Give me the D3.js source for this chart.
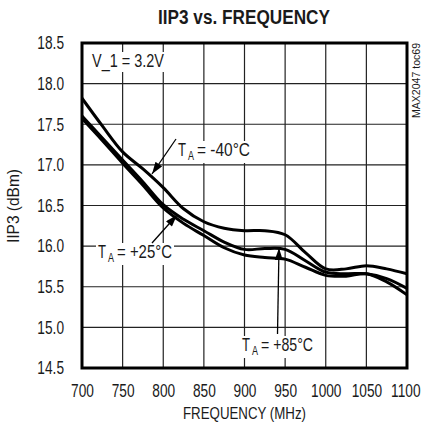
<!DOCTYPE html>
<html><head><meta charset="utf-8">
<script src="https://cdn.jsdelivr.net/npm/d3@7"></script>
<style>
body{margin:0;background:#fff;}
text{font-family:"Liberation Sans Narrow","Arial Narrow","Liberation Sans",sans-serif;fill:#1a1a1a;}
</style></head><body>
<svg id="c" width="422" height="429"></svg>
<script>
const freqs = [700,725,750,775,800,825,850,875,900,925,950,975,1000,1025,1050,1075,1100];
const tMinus40 = [17.82,17.48,17.16,16.95,16.72,16.46,16.30,16.22,16.19,16.19,16.14,15.92,15.72,15.72,15.76,15.72,15.66];
const tPlus25  = [17.60,17.33,17.06,16.79,16.51,16.33,16.19,16.05,15.96,15.97,15.96,15.82,15.68,15.66,15.66,15.60,15.48];
const tPlus85  = [17.57,17.30,17.02,16.75,16.47,16.28,16.13,15.98,15.89,15.86,15.84,15.74,15.64,15.63,15.66,15.56,15.40];
const xTicks = [700,750,800,850,900,950,1000,1050,1100];
const yTicks = [14.5,15.0,15.5,16.0,16.5,17.0,17.5,18.0,18.5];

const svg = d3.select("#c");
const L=82, R=407, T=43, B=368;
const x = d3.scaleLinear().domain([700,1100]).range([L,R]);
const y = d3.scaleLinear().domain([14.5,18.5]).range([B,T]);
const SQ = 0.76;
function squeeze(sel, w){
  sel.each(function(){
    const n=this; const nat=n.getComputedTextLength();
    n.setAttribute("textLength", w!=null ? w : nat*SQ);
    n.setAttribute("lengthAdjust","spacingAndGlyphs");
  });
}

const g = svg.append("g");
g.selectAll(".vx").data(xTicks).enter().append("line")
  .attr("x1",d=>x(d)).attr("x2",d=>x(d)).attr("y1",T).attr("y2",B)
  .attr("stroke","#222").attr("stroke-width",1.2);
g.selectAll(".hy").data(yTicks).enter().append("line")
  .attr("y1",d=>y(d)).attr("y2",d=>y(d)).attr("x1",L).attr("x2",R)
  .attr("stroke","#222").attr("stroke-width",1.2);

const xAxis = svg.append("g").attr("transform",`translate(0,${B})`)
  .call(d3.axisBottom(x).tickValues(xTicks).tickSize(0).tickPadding(16).tickFormat(d3.format("d")));
xAxis.select(".domain").remove();
xAxis.selectAll("text").attr("font-size",18).attr("font-family",null).attr("fill","#1a1a1a");
squeeze(xAxis.selectAll("text"));
// keep the last label inside the window edge
xAxis.selectAll("text").filter(d=>d===1100).attr("text-anchor","end").attr("x",13);
const yAxis = svg.append("g").attr("transform",`translate(${L},0)`)
  .call(d3.axisLeft(y).tickValues(yTicks).tickSize(0).tickPadding(18).tickFormat(d3.format(".1f")));
yAxis.select(".domain").remove();
yAxis.selectAll("text").attr("font-size",18).attr("font-family",null).attr("fill","#1a1a1a");
squeeze(yAxis.selectAll("text"));

const line = d3.line().x((d,i)=>x(freqs[i])).y(d=>y(d)).curve(d3.curveCatmullRom.alpha(0.5));
[tMinus40,tPlus25,tPlus85].forEach(s=>{
  svg.append("path").attr("d",line(s)).attr("fill","none").attr("stroke","#000").attr("stroke-width",3);
});

svg.append("rect").attr("x",L).attr("y",T).attr("width",R-L).attr("height",B-T)
  .attr("fill","none").attr("stroke","#000").attr("stroke-width",3);

svg.append("defs").append("marker").attr("id","ah").attr("viewBox","0 0 12 8")
  .attr("refX",12).attr("refY",4).attr("markerWidth",13).attr("markerHeight",8)
  .attr("markerUnits","userSpaceOnUse").attr("orient","auto")
  .append("path").attr("d","M0,0L12,4L0,8Z").attr("fill","#000");

function label(px,py,val,w){
  const grp = svg.append("g");
  const bg = grp.append("rect").attr("fill","#fff");
  const t1 = grp.append("text").attr("x",px).attr("y",py).attr("font-size",18).text("T");
  squeeze(t1, 8);
  const t2 = grp.append("text").attr("x",px+10).attr("y",py+4).attr("font-size",12).text("A");
  squeeze(t2, 6);
  const x3 = px+19;
  const t3 = grp.append("text").attr("x",x3).attr("y",py).attr("font-size",18).text("= "+val);
  squeeze(t3, w-(x3-px)-2);
  const b1=t1.node().getBBox();
  bg.attr("x",px-2).attr("y",b1.y+1).attr("width",w+2).attr("height",b1.height+2);
}
function arrow(x1,y1,x2,y2){
  svg.append("line").attr("x1",x1).attr("y1",y1).attr("x2",x2).attr("y2",y2)
    .attr("stroke","#000").attr("stroke-width",1.3).attr("marker-end","url(#ah)");
}
label(178,156,"-40°C",74);
arrow(176,139,152,174);
label(98,258,"+25°C",76);
arrow(152,243,177,215);
label(242,351,"+85°C",73);
arrow(277.5,334,279,248);

const vt = svg.append("text").attr("x",92).attr("y",67).attr("font-size",18).text("V_1 = 3.2V");
squeeze(vt,72);
const vb = vt.node().getBBox();
svg.insert("rect",()=>vt.node()).attr("x",vb.x-2).attr("y",vb.y+1).attr("width",vb.width+4).attr("height",vb.height-1).attr("fill","#fff");

const tt = svg.append("text").attr("x",158).attr("y",24)
  .attr("font-size",20).attr("font-weight","bold").text("IIP3 vs. FREQUENCY");
squeeze(tt,172);
const ft = svg.append("text").attr("x",183).attr("y",419).attr("font-size",17).text("FREQUENCY (MHz)");
squeeze(ft,123);
const yt = svg.append("text").attr("transform","translate(19,243) rotate(-90)").attr("font-size",17).text("IIP3 (dBm)");
squeeze(yt,74);
const st = svg.append("text").attr("transform","translate(420,118) rotate(-90)").attr("font-size",11).text("MAX2047 toc69");
squeeze(st,75);
</script></body></html>
